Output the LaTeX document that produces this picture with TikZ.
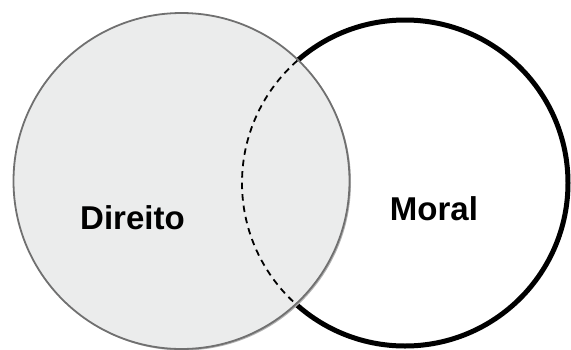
\documentclass[tikz,border=0pt]{standalone}
\usepackage{fontspec}
\setmainfont{Liberation Sans}
\tikzset{>=latex}
\definecolor{direitofill}{RGB}{235,236,236}
\definecolor{direitoline}{RGB}{112,112,112}
\tikzset{
  venntext/.style={font=\fontsize{33}{36}\selectfont\bfseries},
  direitoset/.style={draw=direitoline, line width=1.8pt, fill=direitofill},
  moralset/.style={draw=black, line width=5pt},
}
\begin{document}
\begin{tikzpicture}[x=1pt,y=-1pt]
	\useasboundingbox (0,0) rectangle (571,349);
	\draw[moralset] (405,183) circle (163);
	\fill[black!30] (183,182.5) circle (168);
	\draw[direitoset] (181.5,181) circle (168);
	\begin{scope}
		\clip (181.5,181) circle (168);
		\draw[line width=1.8pt, dash pattern=on 6.5pt off 5pt] (405,183) circle (163);
	\end{scope}
	\node[venntext] (direito) at (132.5,218) {Direito};
	\node[venntext] (moral) at (434,209) {Moral};
\end{tikzpicture}
\end{document}
